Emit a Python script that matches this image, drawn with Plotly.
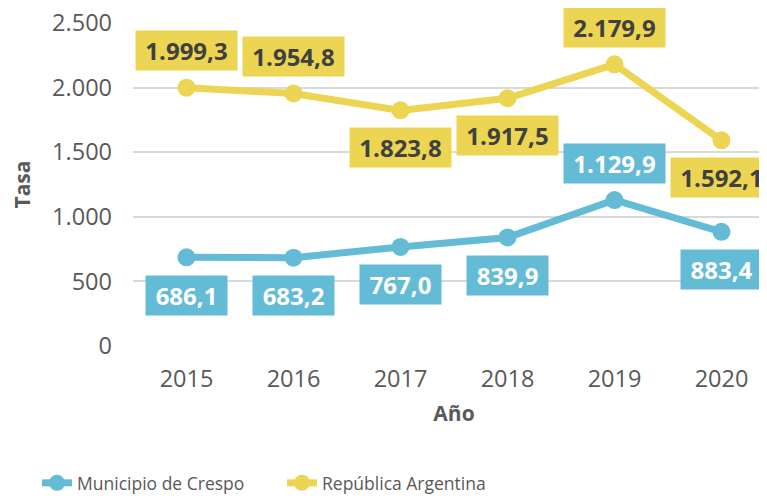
import plotly.graph_objects as go

years = [2015, 2016, 2017, 2018, 2019, 2020]
crespo = [686.1, 683.2, 767.0, 839.9, 1129.9, 883.4]
argentina = [1999.3, 1954.8, 1823.8, 1917.5, 2179.9, 1592.1]
crespo_pos = ["below", "below", "below", "below", "above", "below"]
arg_pos = ["above", "above", "below", "below", "above", "below"]
y_ticks = [0, 500, 1000, 1500, 2000, 2500]

BLUE = "#64BBD5"
YELLOW = "#ECD552"
FONT = "Open Sans"


def fmt(v):
    s = f"{v:,.1f}"
    return s.replace(",", "X").replace(".", ",").replace("X", ".")


def box_w(s):
    return int(sum(13.7 if c.isdigit() else 6.5 for c in s) + 14)


fig = go.Figure()
fig.add_trace(go.Scatter(x=years, y=crespo, mode="lines+markers", name="Municipio de Crespo",
                         line=dict(color=BLUE, width=7), marker=dict(size=18, color=BLUE)))
fig.add_trace(go.Scatter(x=years, y=argentina, mode="lines+markers", name="República Argentina",
                         line=dict(color=YELLOW, width=7), marker=dict(size=18, color=YELLOW)))

anns = []
for x, v, p in zip(years, argentina, arg_pos):
    t = fmt(v)
    anns.append(dict(x=x, y=v, text="<b>" + t + "</b>", showarrow=False, width=box_w(t),
                     yshift=37 if p == "above" else -37, bgcolor=YELLOW, borderpad=3,
                     font=dict(family=FONT, size=24, color="#404040")))
for x, v, p in zip(years, crespo, crespo_pos):
    t = fmt(v)
    anns.append(dict(x=x, y=v, text="<b>" + t + "</b>", showarrow=False, width=box_w(t),
                     yshift=37 if p == "above" else -38, bgcolor=BLUE, borderpad=3,
                     font=dict(family=FONT, size=24, color="white")))

fig.update_layout(
    width=767, height=496,
    margin=dict(l=125, r=0, t=15, b=158, autoexpand=False),
    plot_bgcolor="white", paper_bgcolor="white",
    separators=",.",
    font=dict(family=FONT, color="#595959", size=23.5),
    annotations=anns,
    showlegend=True,
    legend=dict(orientation="h", x=-0.1495, xanchor="left", y=-0.424, yanchor="middle",
                font=dict(size=17.5, color="#595959"), entrywidth=200, entrywidthmode="pixels"),
    xaxis=dict(range=[2014.5, 2020.5], tickvals=years, ticktext=[str(y) for y in years],
               showgrid=False, zeroline=False, showline=False, ticklabelstandoff=16,
               automargin=False, ticklabeloverflow="allow",
               title=dict(text="<b>Año</b>", font=dict(size=21, color="#595959"), standoff=13),
               fixedrange=True),
    yaxis=dict(range=[0, 2500], tickvals=y_ticks, tickformat=",d", showgrid=True,
               gridcolor="#D9D9D9", gridwidth=1.5, zeroline=False, showline=False,
               ticklabelstandoff=20, automargin=False, ticklabeloverflow="allow",
               title=dict(text="<b>Tasa</b>", font=dict(size=21, color="#595959"), standoff=16)),
)

fig.write_html("out.html")
